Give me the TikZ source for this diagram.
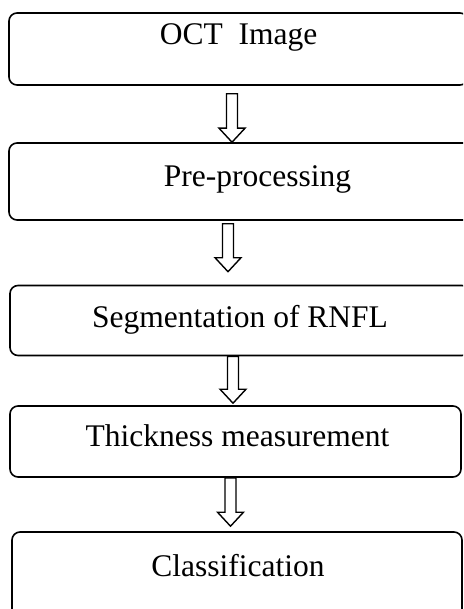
\documentclass[tikz,border=0pt]{standalone}
\usepackage{fontspec}
\setmainfont{Liberation Serif}
\usetikzlibrary{calc}

\begin{document}
\begin{tikzpicture}[x=1pt,y=-1pt,
	stage/.style={draw=black,line width=1.6pt,rounded corners=8pt,inner sep=0pt},
	txt/.style={anchor=base,inner sep=0pt,font=\fontsize{31.5pt}{36pt}\selectfont},
	flow/.style={line width=1.4pt,line join=miter,fill=white,
		to path={let \p1=(\tikztostart), \p2=(\tikztotarget) in
			(\x1-5.5pt,\y1) -- (\x1+5.5pt,\y1) -- (\x1+5.5pt,\y2+14pt) -- (\x1+13pt,\y2+14pt)
			-- (\x1,\y2) -- (\x1-13pt,\y2+14pt) -- (\x1-5.5pt,\y2+14pt) -- cycle}}]
	\useasboundingbox (0,0) rectangle (463,609);
	\clip (0,0) rectangle (463,609);
\node[stage,minimum width=459pt,minimum height=72pt] (oct) at (238.5,49) {};
\node[stage,minimum width=497pt,minimum height=77pt] (pre) at (257.5,181.5) {};
\node[stage,minimum width=460pt,minimum height=70pt] (seg) at (240,320.5) {};
\node[stage,minimum width=451pt,minimum height=71pt] (thk) at (235.5,441.5) {};
\node[stage,minimum width=450pt,minimum height=90pt] (cls) at (237,577) {};
\node[txt] (octtxt) at (238.5,45) {OCT\ \ Image};
\node[txt] (pretxt) at (257.5,187) {Pre-processing};
\node[txt] (segtxt) at (240,327) {Segmentation of RNFL};
\node[txt] (thktxt) at (237.5,446) {Thickness measurement};
\node[txt] (clstxt) at (238,576) {Classification};
\draw[flow] ($(oct.south -| 232,0)+(0,8)$) to (pre.north -| 232,0);
\draw[flow] ($(pre.south -| 228,0)+(0,3)$) to ($(seg.north -| 228,0)+(0,-13)$);
\draw[flow] (seg.south -| 233,0) to ($(thk.north -| 233,0)+(0,-2)$);
\draw[flow] (thk.south -| 230.5,0) to ($(cls.north -| 230.5,0)+(0,-5)$);

\end{tikzpicture}
\end{document}
